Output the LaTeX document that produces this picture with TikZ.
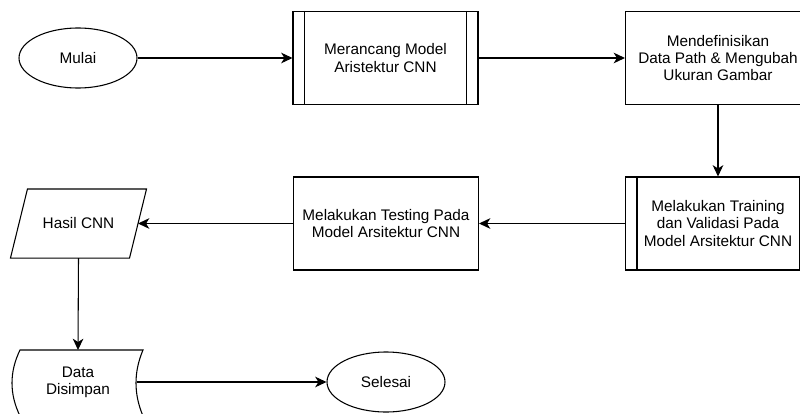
\documentclass[tikz,border=0pt]{standalone}
\usepackage{fontspec}
\setmainfont{Liberation Sans}
\usetikzlibrary{shapes.geometric,arrows.meta}
\begin{document}
\begin{tikzpicture}[x=0.75pt,y=-0.75pt,
  line width=0.8pt,
  txt/.style={font=\fontsize{11.5}{12.9}\selectfont, align=center, text=black},
  box/.style={txt, draw, rectangle, minimum width=138.75pt, minimum height=69.75pt, inner sep=0pt},
  oval/.style={txt, draw, ellipse, minimum width=88.5pt, minimum height=45pt, inner sep=0pt},
  ghost/.style={txt, rectangle, inner sep=0pt},
  arr/.style={-{Stealth[length=8.5pt,width=8pt,inset=2.5pt]}}]
\fill[white] (0,0) rectangle (800,414);
\useasboundingbox (0,0) rectangle (800,414);
\clip (0,0) rectangle (800,414);

\node[oval] (mulai) at (78,58) {Mulai};
\node[box] (merancang) at (385.5,58) {Merancang Model\\Aristektur CNN};
\node[box] (mendef) at (718,58) {Mendefinisikan\\Data Path \& Mengubah\\Ukuran Gambar};
\node[box] (training) at (718,223.5) {Melakukan Training\\dan Validasi Pada\\Model Arsitektur CNN};
\node[box] (testing) at (386,223.5) {Melakukan Testing Pada\\Model Arsitektur CNN};
\node[ghost, minimum width=88.5pt, minimum height=51pt] (hasil) at (78.5,223.5) {Hasil CNN};
\node[ghost, minimum width=87pt, minimum height=49.5pt] (datasim) at (78,382) {Data\\Disimpan};
\node[oval] (selesai) at (386,382) {Selesai};

% double side lines of predefined processes
\draw ([xshift=9pt]merancang.north west) -- ([xshift=9pt]merancang.south west);
\draw ([xshift=-9pt]merancang.north east) -- ([xshift=-9pt]merancang.south east);
\draw ([xshift=9pt]training.north west) -- ([xshift=9pt]training.south west);
\draw ([xshift=-9pt]training.north east) -- ([xshift=-9pt]training.south east);

% parallelogram
\draw ([xshift=6.375pt]hasil.north west) -- ([xshift=6.375pt]hasil.north east)
  -- ([xshift=-6.375pt]hasil.south east) -- ([xshift=-6.375pt]hasil.south west) -- cycle;

% stored data shape
\coordinate (dstop) at (78,350);
\draw (20,350) -- (143,350) .. controls (133.67,372) and (133.67,394) .. (143,416)
  -- (20,416) .. controls (9.33,394) and (9.33,372) .. (20,350) -- cycle;

\draw[arr] (mulai.east) -- (merancang.west);
\draw[arr] (merancang.east) -- (mendef.west);
\draw[arr] (mendef.south) -- (training.north);
\draw[arr] (training.west) -- (testing.east);
\draw[arr] (testing.west) -- (hasil.east);
\draw[arr] (hasil.south) -- (dstop);
\draw[arr] (datasim.east) -- (selesai.west);
\end{tikzpicture}
\end{document}
